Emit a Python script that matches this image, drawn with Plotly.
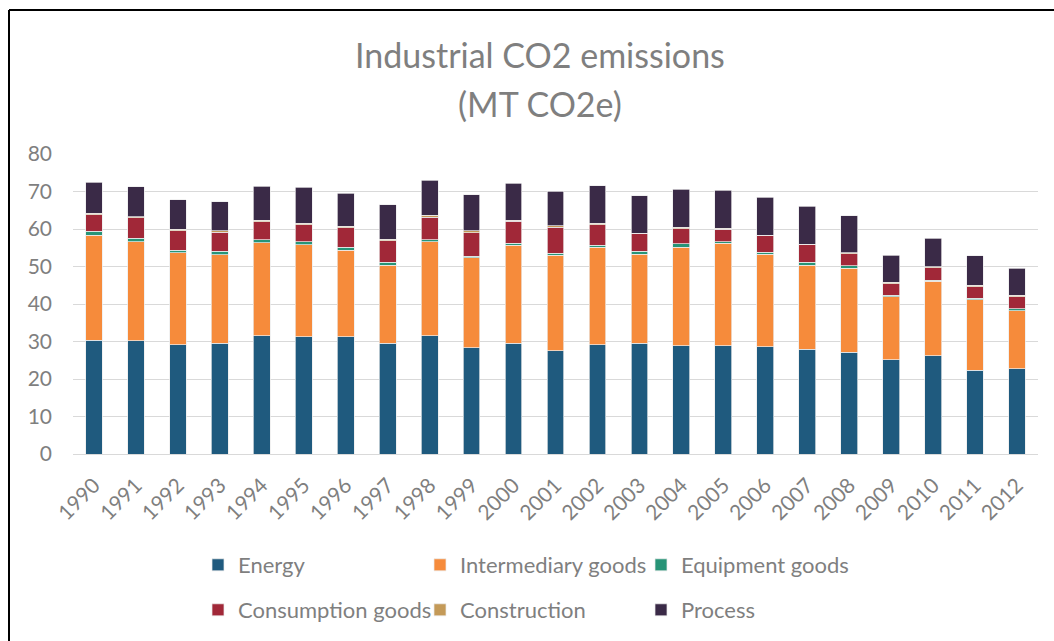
import plotly.graph_objects as go

years = [str(y) for y in range(1990, 2013)]

energy = [30.3, 30.2, 29.2, 29.5, 31.6, 31.3, 31.3, 29.6, 31.5, 28.4, 29.5, 27.5,
          29.1, 29.6, 28.9, 28.9, 28.6, 27.9, 27.1, 25.2, 26.2, 22.3, 22.8]
intermediary = [28.1, 26.4, 24.5, 23.6, 24.8, 24.5, 23.1, 20.8, 25.1, 23.9, 26.2, 25.5,
                26.0, 23.7, 26.3, 27.3, 24.7, 22.4, 22.4, 16.7, 19.9, 18.8, 15.4]
equipment = [1.0, 0.9, 0.7, 1.0, 0.7, 0.8, 0.7, 0.7, 0.5, 0.4, 0.5, 0.5,
             0.6, 0.8, 0.9, 0.4, 0.5, 0.8, 0.7, 0.5, 0.3, 0.5, 0.5]
consumption = [4.4, 5.5, 5.2, 5.1, 4.9, 4.6, 5.3, 5.8, 6.1, 6.3, 5.9, 7.0,
               5.5, 4.6, 4.0, 3.3, 4.4, 4.7, 3.2, 3.0, 3.3, 3.0, 3.3]
construction = [0.4, 0.3, 0.3, 0.4, 0.3, 0.4, 0.3, 0.4, 0.5, 0.5, 0.3, 0.4,
                0.4, 0.2, 0.4, 0.3, 0.2, 0.2, 0.3, 0.4, 0.3, 0.4, 0.3]
process = [8.3, 8.0, 7.9, 7.7, 9.1, 9.6, 8.9, 9.2, 9.3, 9.6, 9.8, 9.2,
           10.0, 10.0, 10.1, 10.2, 10.1, 10.1, 9.8, 7.2, 7.5, 7.9, 7.2]

series_names = ["Energy", "Intermediary goods", "Equipment goods",
                "Consumption goods", "Construction", "Process"]
series_values = [energy, intermediary, equipment, consumption, construction, process]
series_colors = ["#1f5a7e", "#f68b3b", "#279477", "#a12838", "#c49a58", "#3a2a47"]

TXT = "#7f7f7f"
FONT = "Lato"

W, H = 1054, 641
L, R, T, B = 73, 16, 154, 187
pw = W - L - R
ph = H - T - B


def px_x(x):
    return (x - L) / pw


def px_y(y):
    return (H - B - y) / ph


# legend slot positions (text start x, row centre y) in pixels
leg_text_x = [235, 457, 678]
leg_row_y = [565, 610]

fig = go.Figure()
legend_defs = {}
for i, (name, vals, color) in enumerate(zip(series_names, series_values, series_colors)):
    lid = "legend" if i == 0 else f"legend{i + 1}"
    fig.add_trace(go.Bar(
        x=years, y=vals, name=name, legend=lid,
        marker=dict(color=color, line=dict(color="rgba(235,235,235,0.9)", width=0.8)),
    ))
    col = i % 3
    row = i // 3
    legend_defs[lid] = dict(
        orientation="h", x=px_x(leg_text_x[col] - 37), xanchor="left",
        y=px_y(leg_row_y[row]), yanchor="middle",
        font=dict(size=22, color=TXT, family=FONT), bgcolor="rgba(0,0,0,0)",
    )

fig.update_layout(
    width=W, height=H,
    barmode="stack", bargap=0.6,
    plot_bgcolor="white", paper_bgcolor="white",
    margin=dict(l=L, r=R, t=T, b=B, autoexpand=False),
    font=dict(family=FONT, color=TXT, size=21),
    showlegend=True,
    xaxis=dict(type="category", tickangle=-45, showgrid=False, showline=False,
               ticks="", ticklabelstandoff=14,
               tickfont=dict(size=21, color=TXT, family=FONT), automargin=False),
    yaxis=dict(range=[0, 80], dtick=10, showgrid=True, gridcolor="#d9d9d9", gridwidth=1.3,
               zeroline=True, zerolinecolor="#d9d9d9", zerolinewidth=1.3, showline=False,
               ticks="", ticklabelstandoff=20, tickfont=dict(size=21, color=TXT, family=FONT),
               automargin=False),
    annotations=[
        dict(text="Industrial CO2 emissions", xref="paper", yref="paper",
             x=px_x(539.5), y=px_y(55), xanchor="center", yanchor="middle", showarrow=False,
             font=dict(size=34, color=TXT, family=FONT)),
        dict(text="(MT CO2e)", xref="paper", yref="paper",
             x=px_x(539.5), y=px_y(103), xanchor="center", yanchor="middle", showarrow=False,
             font=dict(size=34, color=TXT, family=FONT)),
    ],
    shapes=[
        dict(type="line", xref="paper", yref="paper", x0=px_x(9), x1=px_x(1100),
             y0=px_y(10), y1=px_y(10), line=dict(color="black", width=2)),
        dict(type="line", xref="paper", yref="paper", x0=px_x(9), x1=px_x(9),
             y0=px_y(10), y1=px_y(700), line=dict(color="black", width=2)),
    ],
)
fig.update_layout(**legend_defs)

fig.write_html("out.html", config={"displayModeBar": False},
               post_script="document.body.style.margin='0';")
